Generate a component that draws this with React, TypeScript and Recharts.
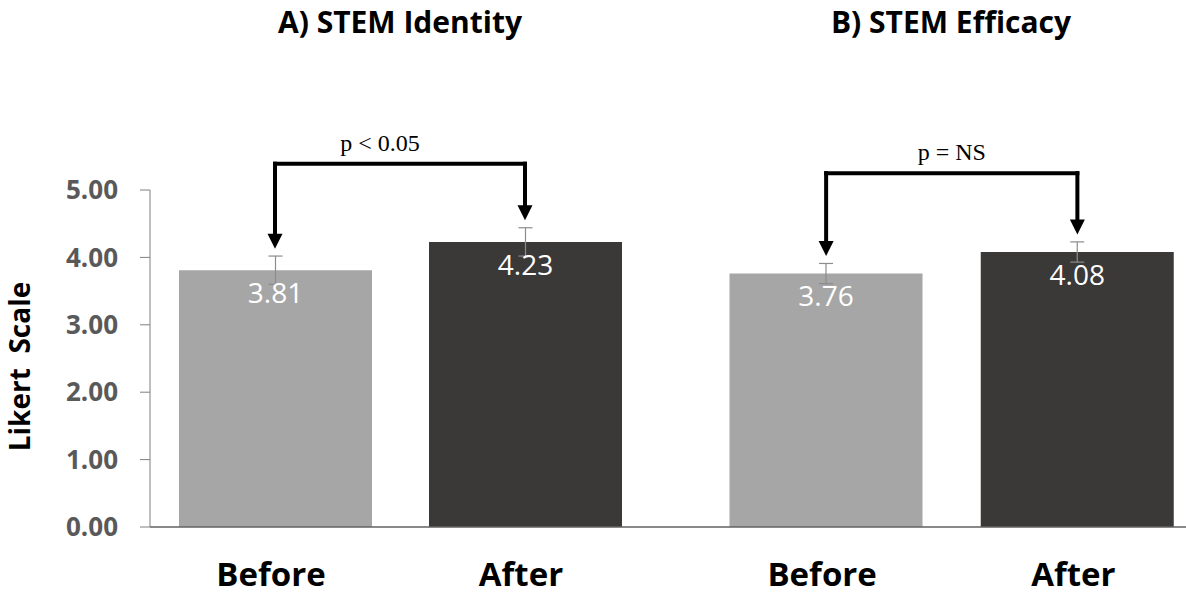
import React from 'react';
import { BarChart, Bar, XAxis, YAxis, Cell, ErrorBar, LabelList, ReferenceLine } from 'recharts';

const categories = ['Before', 'After'];
const identityMeans = [3.81, 4.23];
const identityErr = [0.21, 0.21];
const efficacyMeans = [3.76, 4.08];
const efficacyErr = [0.15, 0.15];
const panelTitles = ['A) STEM Identity', 'B) STEM Efficacy'];
const pLabels = ['p < 0.05', 'p = NS'];
const bracketLevels = [5.39, 5.25];
const yTicks = [0, 1, 2, 3, 4, 5];

const barColors = ['#a6a6a6', '#3b3838'];
const FONT = '"Open Sans", "Noto Sans", sans-serif';
const ARROW_GAP = 0.11;

const makeData = (means: number[], errs: number[]) =>
  categories.map((name, i) => ({ name, value: means[i], err: errs[i] }));

const identityData = makeData(identityMeans, identityErr);
const efficacyData = makeData(efficacyMeans, efficacyErr);

const ArrowDown = (props: any) => {
  const { x1, y1, x2, y2 } = props;
  const top = Math.min(y1, y2);
  const tip = Math.max(y1, y2);
  const head = 15;
  return (
    <g>
      <line x1={x1} y1={top} x2={x2} y2={tip - head + 1} stroke="#000" strokeWidth={4} strokeLinecap="square" />
      <polygon points={`${x2 - 7.5},${tip - head} ${x2 + 7.5},${tip - head} ${x2},${tip}`} fill="#000" />
    </g>
  );
};

const makeBracketTop = (text: string, dx: number) => (props: any) => {
  const { x1, y1, x2, y2 } = props;
  return (
    <g>
      <line x1={x1} y1={y1} x2={x2} y2={y2} stroke="#000" strokeWidth={4} strokeLinecap="square" />
      <text x={(x1 + x2) / 2 + dx} y={y1 - 13} textAnchor="middle" fontSize={24}
        fontFamily='"Liberation Serif", "DejaVu Serif", serif' fill="#000">
        {text}
      </text>
    </g>
  );
};

const XTick = (props: any) => {
  const { x, y, payload } = props;
  return (
    <text x={x - 4} y={y + 59} textAnchor="middle" fontSize={33} fontWeight={700} fontFamily={FONT} fill="#000">
      {payload.value}
    </text>
  );
};

const YLabel = (props: any) => {
  const vb = props.viewBox || { x: 0, y: 190, width: 150, height: 337 };
  const cx = vb.x + 19;
  const cy = vb.y + vb.height / 2 + 8;
  return (
    <text x={cx} y={cy} transform={`rotate(-90 ${cx} ${cy})`} textAnchor="middle" dominantBaseline="central"
      fontSize={28} fontWeight={700} fontFamily={FONT} fill="#000" style={{ whiteSpace: 'pre' }}>
      {'Likert  Scale'}
    </text>
  );
};

interface PanelProps {
  data: { name: string; value: number; err: number }[];
  index: number;
  left: number;
  width: number;
  showY: boolean;
  padding: { left: number; right: number };
  labelDx: number;
}

const Panel: React.FC<PanelProps> = ({ data, index, left, width, showY, padding, labelDx }) => {
  const level = bracketLevels[index];
  const [b, a] = data;
  return (
    <div style={{ position: 'absolute', left, top: 0 }}>
      <BarChart width={width} height={596} data={data} margin={{ top: 190, right: 0, bottom: 0, left: 0 }}>
        <XAxis
          dataKey="name"
          height={69}
          interval={0}
          tickLine={false}
          tickSize={0}
          tickMargin={0}
          axisLine={{ stroke: '#626262', strokeWidth: 1.5 }}
          padding={padding}
          tick={<XTick />}
        />
        <YAxis
          hide={!showY}
          width={150}
          domain={[0, 5]}
          ticks={yTicks}
          tickFormatter={(v: number) => v.toFixed(2)}
          tickSize={10}
          tickMargin={22}
          axisLine={{ stroke: '#7f7f7f' }}
          tickLine={{ stroke: '#7f7f7f' }}
          tick={{ fontSize: 26, fontWeight: 700, fill: '#595959', fontFamily: FONT }}
          label={showY ? { content: YLabel } : undefined}
        />
        <Bar dataKey="value" barSize={193} isAnimationActive={false}>
          {data.map((d, i) => (
            <Cell key={d.name} fill={barColors[i]} />
          ))}
          <ErrorBar dataKey="err" width={7} stroke="#8c8c8c" strokeWidth={1.2} direction="y" />
          <LabelList
            dataKey="value"
            position="insideTop"
            offset={13}
            fill="#ffffff"
            fontSize={28}
            fontFamily={FONT}
            formatter={(v: any) => Number(v).toFixed(2)}
          />
        </Bar>
        <ReferenceLine
          segment={[{ x: b.name, y: level }, { x: a.name, y: level }]}
          ifOverflow="visible"
          shape={makeBracketTop(pLabels[index], labelDx)}
        />
        <ReferenceLine
          segment={[{ x: b.name, y: level }, { x: b.name, y: b.value + b.err + ARROW_GAP }]}
          ifOverflow="visible"
          shape={ArrowDown}
        />
        <ReferenceLine
          segment={[{ x: a.name, y: level }, { x: a.name, y: a.value + a.err + ARROW_GAP }]}
          ifOverflow="visible"
          shape={ArrowDown}
        />
      </BarChart>
    </div>
  );
};

export default function App() {
  return (
    <div style={{ position: 'fixed', left: 0, top: 0, width: 1186, height: 596, overflow: 'hidden', background: '#fff' }}>
      <svg width={1186} height={60} style={{ position: 'absolute', left: 0, top: 0 }}>
        <text x={400} y={33} textAnchor="middle" fontSize={30} fontWeight={700} fontFamily={FONT} fill="#000">
          {panelTitles[0]}
        </text>
        <text x={951} y={33} textAnchor="middle" fontSize={30} fontWeight={700} fontFamily={FONT} fill="#000">
          {panelTitles[1]}
        </text>
      </svg>
      <Panel data={identityData} index={0} left={0} width={675} showY padding={{ left: 0, right: 25 }} labelDx={-20} />
      <Panel data={efficacyData} index={1} left={675} width={528} showY={false} padding={{ left: 25.5, right: 0 }} labelDx={0} />
    </div>
  );
}
